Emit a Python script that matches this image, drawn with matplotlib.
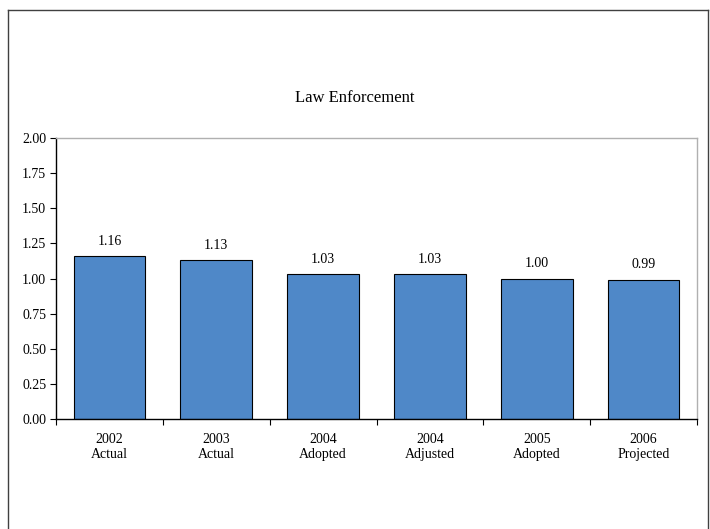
import matplotlib.pyplot as plt
from matplotlib.lines import Line2D
import numpy as np

years = ['2002', '2003', '2004', '2004', '2005', '2006']
kinds = ['Actual', 'Actual', 'Adopted', 'Adjusted', 'Adopted', 'Projected']
values = [1.16, 1.13, 1.03, 1.03, 1.00, 0.99]

plt.rcParams['font.family'] = ['Liberation Serif', 'DejaVu Serif']

fig = plt.figure(figsize=(7.10, 5.29), dpi=100)
ax = fig.add_axes([0.0789, 0.208, 0.9028, 0.531])

x = np.arange(len(values))
ax.bar(x, values, width=0.67, color='#4F88C8', edgecolor='black', linewidth=0.8)

# value labels
for xi, v in zip(x, values):
    ax.text(xi, v + 0.06, f'{v:.2f}', ha='center', va='bottom', fontsize=10)

ax.set_xlim(-0.5, len(values) - 0.5)
ax.set_ylim(0, 2.0)
ax.set_yticks(np.arange(0, 2.01, 0.25))
ax.set_yticklabels([f'{t:.2f}' for t in np.arange(0, 2.01, 0.25)], fontsize=10)

# category labels between the boundary ticks
ax.set_xticks(x)
ax.set_xticklabels([f'{y}\n{k}' for y, k in zip(years, kinds)], fontsize=10, linespacing=1.25)
ax.tick_params(axis='x', length=0, pad=10)
ax.set_xticks(np.arange(-0.5, len(values), 1.0), minor=True)
ax.tick_params(axis='x', which='minor', direction='out', length=4, width=0.8)
ax.tick_params(axis='y', direction='out', length=4, width=0.8, pad=3)

for side in ['top', 'right']:
    ax.spines[side].set_color('#B0B0B0')
    ax.spines[side].set_linewidth(1.0)
for side in ['left', 'bottom']:
    ax.spines[side].set_color('black')
    ax.spines[side].set_linewidth(1.0)

fig.text(0.5, 1 - 98 / 529, 'Law Enforcement', ha='center', va='center', fontsize=12)

# outer frame (bottom edge is cut off in the reference)
l, r, t = 8 / 710, 708 / 710, 1 - 10 / 529
frame = dict(color='#404040', linewidth=1.0, transform=fig.transFigure)
fig.add_artist(Line2D([l, r], [t, t], **frame))
fig.add_artist(Line2D([l, l], [0, t], **frame))
fig.add_artist(Line2D([r, r], [0, t], **frame))

fig.savefig('out.png', dpi=100)
